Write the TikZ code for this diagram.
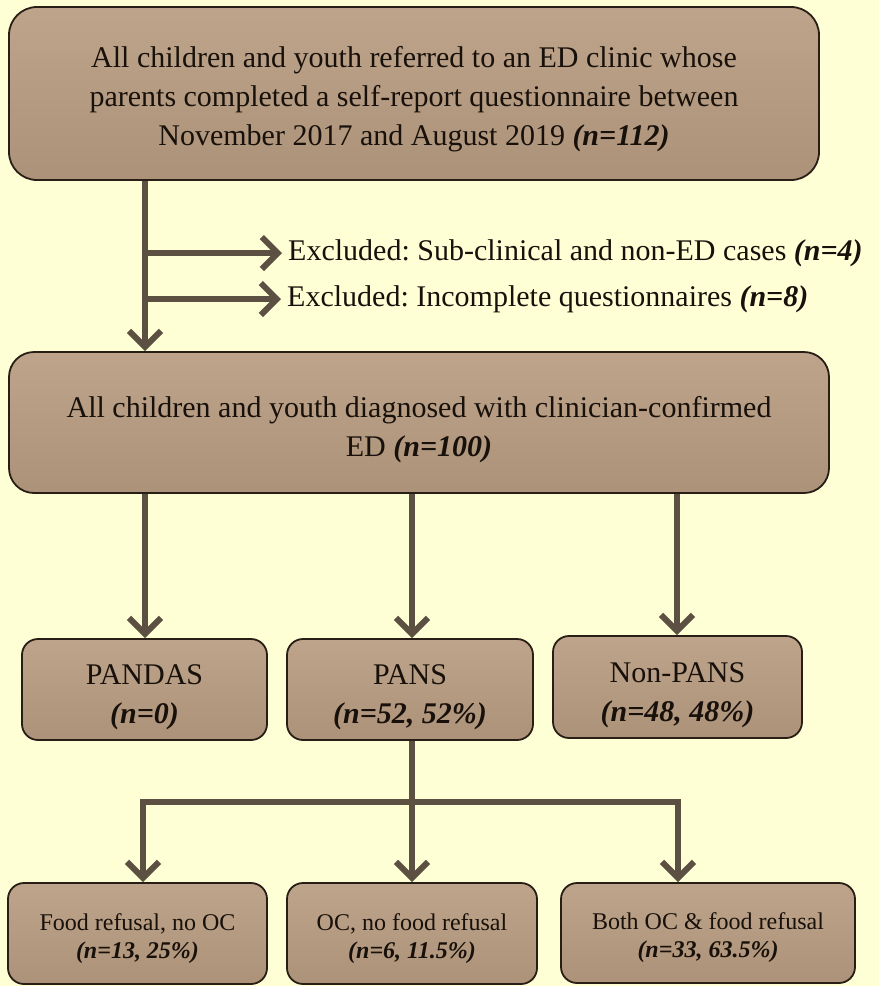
\documentclass[tikz,border=0pt]{standalone}
\usepackage{fontspec}
\setmainfont{Liberation Serif}
\usetikzlibrary{arrows.meta}
\definecolor{bgc}{RGB}{255,255,214}
\definecolor{boxtop}{RGB}{190,164,138}
\definecolor{boxbot}{RGB}{172,146,120}
\definecolor{boxline}{RGB}{40,30,22}
\definecolor{arrc}{RGB}{92,80,66}
\definecolor{txtc}{RGB}{24,16,10}
\tikzset{
  flowbox/.style={draw=boxline, line width=1.8pt, top color=boxtop, bottom color=boxbot,
    align=center, text=txtc, inner sep=2pt},
  bigfont/.style={font={\fontsize{30}{39}\selectfont\frenchspacing}},
  smallfont/.style={font={\fontsize{24}{28}\selectfont\frenchspacing}},
  conn/.style={draw=arrc, line width=5.5pt},
  arr/.style={conn, -{Straight Barb[length=16pt,width=32pt,line width=6pt]}},
}
\newcommand{\nb}[1]{\textbf{\textit{#1}}}
\newcommand{\sd}[1]{\rule{0pt}{#1}}
\begin{document}
\begin{tikzpicture}[x=1pt,y=-1pt]
\fill[bgc] (0,0) rectangle (879,986);
\useasboundingbox (0,0) rectangle (879,986);

% boxes
\node[flowbox, bigfont, rounded corners=28pt, minimum width=810pt, minimum height=173pt] (top) at (414,93.5)
  {\sd{33pt}All children and youth referred to an ED clinic whose\\ parents completed a self-report questionnaire between\\ November 2017 and August 2019 \nb{(n=112)}};
\node[flowbox, bigfont, rounded corners=25pt, minimum width=820pt, minimum height=141pt] (ed) at (419,422.5)
  {\sd{35pt}All children and youth diagnosed with clinician-confirmed\\ ED \nb{(n=100)}};
\node[flowbox, bigfont, rounded corners=16pt, minimum width=245pt, minimum height=101pt] (pandas) at (144.5,689.5)
  {\sd{36pt}PANDAS\\ \nb{(n=0)}};
\node[flowbox, bigfont, rounded corners=16pt, minimum width=246pt, minimum height=101pt] (pans) at (410,689.5)
  {\sd{36pt}PANS\\ \nb{(n=52, 52\%)}};
\node[flowbox, bigfont, rounded corners=16pt, minimum width=249pt, minimum height=102pt] (nonpans) at (677.5,687)
  {\sd{36pt}Non-PANS\\ \nb{(n=48, 48\%)}};
\node[flowbox, smallfont, rounded corners=16pt, minimum width=259pt, minimum height=101pt] (fr) at (137.5,933.5)
  {\sd{27pt}Food refusal, no OC\\ \nb{(n=13, 25\%)}};
\node[flowbox, smallfont, rounded corners=16pt, minimum width=250pt, minimum height=101pt] (oc) at (412,933.5)
  {\sd{27pt}OC, no food refusal\\ \nb{(n=6, 11.5\%)}};
\node[flowbox, smallfont, rounded corners=16pt, minimum width=294pt, minimum height=100pt] (both) at (708,933)
  {\sd{27pt}Both OC \& food refusal\\ \nb{(n=33, 63.5\%)}};

% exclusion labels
\node[bigfont, text=txtc, anchor=west, inner sep=6pt] (ex1) at (282,253)
  {Excluded: Sub-clinical and non-ED cases \nb{(n=4)}};
\node[bigfont, text=txtc, anchor=west, inner sep=6pt] (ex2) at (281,299)
  {Excluded: Incomplete questionnaires \nb{(n=8)}};

% coordinates
\coordinate (cA) at (145,0);
\coordinate (cB) at (412,0);
\coordinate (cC) at (677,0);
\coordinate (bar1) at (143,802);
\coordinate (bar2) at (412,802);
\coordinate (bar3) at (678,802);

% connectors
\draw[arr] (top.south -| cA) -- (ed.north -| cA);
\draw[arr] (cA |- ex1.west) -- (ex1.west);
\draw[arr] (cA |- ex2.west) -- (ex2.west);
\draw[arr] (ed.south -| cA) -- (pandas.north -| cA);
\draw[arr] (ed.south -| cB) -- (pans.north -| cB);
\draw[arr] (ed.south -| cC) -- (nonpans.north -| cC);
\draw[conn] (pans.south -| bar2) -- (bar2);
\draw[arr] (bar2) -- (bar1) -- (fr.north -| bar1);
\draw[arr] (bar2) -- (bar3) -- (both.north -| bar3);
\draw[arr] (bar2) -- (oc.north -| bar2);
\end{tikzpicture}
\end{document}
